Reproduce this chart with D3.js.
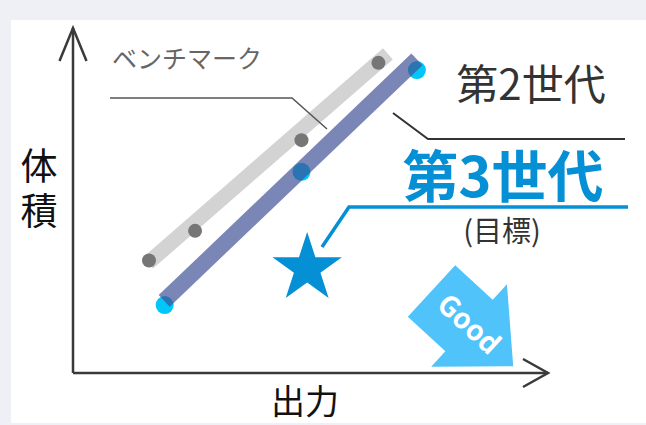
<!DOCTYPE html>
<html>
<head>
<meta charset="utf-8">
<script src="https://cdn.jsdelivr.net/npm/d3@7"></script>
<style>
  html, body { margin: 0; padding: 0; background: #eef0f5; }
  svg { display: block; }
  text { font-family: "Noto Sans CJK JP", "Noto Sans", sans-serif; }
</style>
</head>
<body>
<svg width="646" height="425"></svg>
<script>
// data (arbitrary units, 0-100 on both axes)
var benchmarkX = [16.0, 25.7, 48.1, 64.3];
var benchmarkY = [32.6, 41.2, 67.5, 89.9];
var benchmarkTrendX = [15.8, 66.3];
var benchmarkTrendY = [31.9, 92.5];

var gen2X = [19.3, 48.1, 72.4];
var gen2Y = [19.7, 58.3, 87.8];
var gen2TrendX = [19.2, 72.4];
var gen2TrendY = [20.9, 90.9];

var gen3TargetX = [49.3];
var gen3TargetY = [30.3];

var xLabel = "出力";
var yLabel = ["体", "積"];

// Select svg and take width and height
var svg = d3.select("svg"),
    width = +svg.attr("width"),
    height = +svg.attr("height");

// white panel
svg.append("rect")
    .attr("x", 11).attr("y", 20)
    .attr("width", width - 11).attr("height", 403)
    .attr("fill", "#ffffff");

var x = d3.scaleLinear().domain([0, 100]).range([73, 548]);
var y = d3.scaleLinear().domain([0, 100]).range([373, 28]);

function pts(xs, ys) {
  return xs.map(function(v, i) { return { x: v, y: ys[i] }; });
}

var line = d3.line()
    .x(function(d) { return x(d.x); })
    .y(function(d) { return y(d.y); });

// axes with open arrow heads
var axisColor = "#3a3a3a";
svg.append("line")
    .attr("x1", x(0)).attr("y1", y(0)).attr("x2", x(0)).attr("y2", y(100))
    .attr("stroke", axisColor).attr("stroke-width", 2.5);
svg.append("line")
    .attr("x1", x(0)).attr("y1", y(0)).attr("x2", x(100)).attr("y2", y(0))
    .attr("stroke", axisColor).attr("stroke-width", 2.5);
svg.append("path")
    .attr("d", "M" + (x(0) - 13.5) + "," + (y(100) + 33) + "L" + x(0) + "," + y(100) + "L" + (x(0) + 13.5) + "," + (y(100) + 33))
    .attr("fill", "none").attr("stroke", axisColor).attr("stroke-width", 2.5);
svg.append("path")
    .attr("d", "M" + (x(100) - 25) + "," + (y(0) - 14) + "L" + x(100) + "," + y(0) + "L" + (x(100) - 25) + "," + (y(0) + 14))
    .attr("fill", "none").attr("stroke", axisColor).attr("stroke-width", 2.5);

// axis titles
svg.append("text")
    .attr("x", 305).attr("y", 399)
    .attr("text-anchor", "middle").attr("dominant-baseline", "central")
    .attr("font-size", 34).attr("fill", "#111")
    .text(xLabel);
svg.selectAll(".ylab")
    .data(yLabel)
    .enter().append("text")
    .attr("class", "ylab")
    .attr("x", 39)
    .attr("y", function(d, i) { return 164 + i * 45; })
    .attr("text-anchor", "middle").attr("dominant-baseline", "central")
    .attr("font-size", 37).attr("fill", "#111")
    .text(function(d) { return d; });

// benchmark band + dots
svg.append("path")
    .datum(pts(benchmarkTrendX, benchmarkTrendY))
    .attr("d", line)
    .attr("fill", "none").attr("stroke", "#d3d3d3").attr("stroke-width", 15);
svg.append("g")
    .selectAll("circle")
    .data(pts(benchmarkX, benchmarkY))
    .enter().append("circle")
    .attr("cx", function(d) { return x(d.x); })
    .attr("cy", function(d) { return y(d.y); })
    .attr("r", 7)
    .attr("fill", "#767676");

// gen2 dots under a translucent band
svg.append("g")
    .selectAll("circle")
    .data(pts(gen2X, gen2Y))
    .enter().append("circle")
    .attr("cx", function(d) { return x(d.x); })
    .attr("cy", function(d) { return y(d.y); })
    .attr("r", 9)
    .attr("fill", "#00c6fa");
svg.append("path")
    .datum(pts(gen2TrendX, gen2TrendY))
    .attr("d", line)
    .attr("fill", "none").attr("stroke", "#3e5094").attr("stroke-opacity", 0.69).attr("stroke-width", 16);

// gen3 target star
var blue = "#0590d6";
svg.append("g")
    .selectAll("path")
    .data(pts(gen3TargetX, gen3TargetY))
    .enter().append("path")
    .attr("transform", function(d) { return "translate(" + x(d.x) + "," + y(d.y) + ")"; })
    .attr("d", d3.symbol().type(d3.symbolStar).size(1496))
    .attr("fill", blue);

// callouts
svg.append("path")
    .attr("d", "M110,98L292,98L327,129")
    .attr("fill", "none").attr("stroke", "#555").attr("stroke-width", 1.5);
svg.append("text")
    .attr("x", 112).attr("y", 68)
    .attr("font-size", 25).attr("fill", "#666")
    .text("ベンチマーク");

svg.append("path")
    .attr("d", "M393,113L428,139L625,139")
    .attr("fill", "none").attr("stroke", "#333").attr("stroke-width", 2);
svg.append("text")
    .attr("x", 531).attr("y", 81)
    .attr("text-anchor", "middle").attr("dominant-baseline", "central")
    .attr("font-size", 42).attr("fill", "#333")
    .text("第2世代");

svg.append("path")
    .attr("d", "M322,247L349,207L628,207")
    .attr("fill", "none").attr("stroke", blue).attr("stroke-width", 3.5);
svg.append("text")
    .attr("x", 503).attr("y", 172)
    .attr("text-anchor", "middle").attr("dominant-baseline", "central")
    .attr("font-size", 56).attr("font-weight", "bold").attr("fill", blue)
    .text("第3世代");
svg.append("text")
    .attr("x", 502).attr("y", 229)
    .attr("text-anchor", "middle").attr("dominant-baseline", "central")
    .attr("font-size", 29).attr("fill", "#333")
    .text("(目標)");

// "Good" arrow pointing down-right
var good = svg.append("g")
    .attr("transform", "translate(431.5,291) rotate(42.6)");
good.append("path")
    .attr("d", "M0,-35L51,-35L51,-56L111,0L51,56L51,35L0,35Z")
    .attr("fill", "#50c4fa");
good.append("text")
    .attr("x", 50).attr("y", -3)
    .attr("text-anchor", "middle").attr("dominant-baseline", "central")
    .attr("font-family", "'Liberation Sans', Arial, sans-serif")
    .attr("font-size", 28).attr("font-weight", "bold").attr("fill", "#fff")
    .text("Good");
</script>
</body>
</html>
